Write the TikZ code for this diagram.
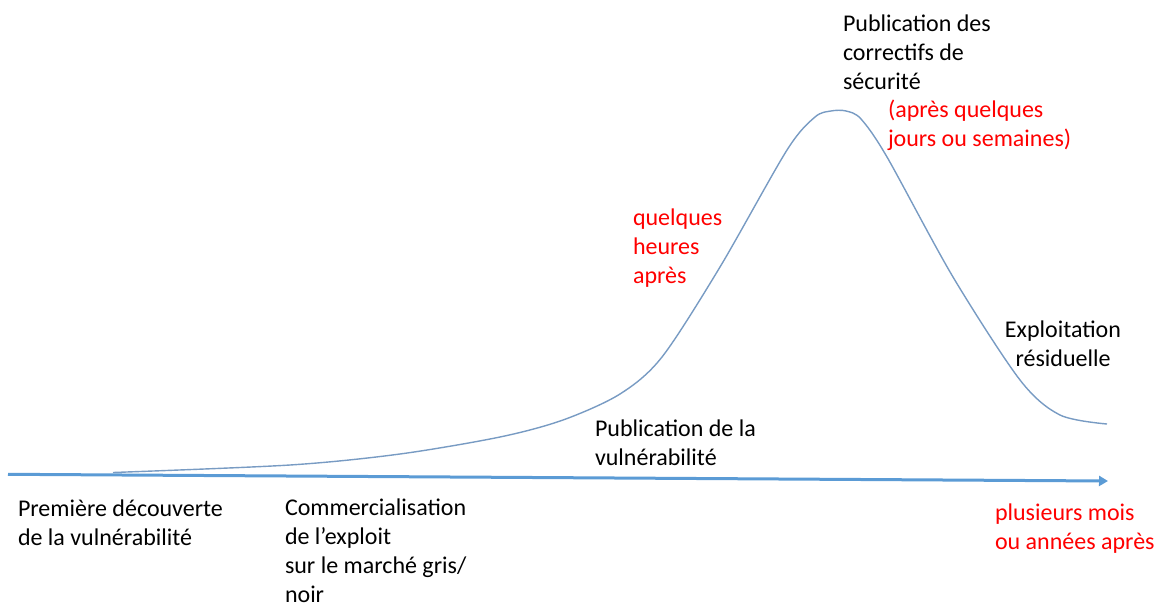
\documentclass[tikz,border=0pt]{standalone}
\usepackage{fontspec}
\setmainfont{Carlito}
\usetikzlibrary{arrows.meta}
\definecolor{axisblue}{RGB}{91,155,213}
\definecolor{curveblue}{RGB}{120,155,195}
\definecolor{lblred}{RGB}{255,0,0}
\newcommand\lblfont{\fontsize{24}{29.3}\selectfont}
\newcommand\fl{\rule{0pt}{20pt}}
\tikzset{
  lbl/.style={anchor=north west, inner sep=0pt, outer sep=0pt, align=left, font=\lblfont, text=black},
  lblc/.style={lbl, anchor=north, align=center},
  redlbl/.style={lbl, text=lblred},
  axisline/.style={draw=axisblue, line width=3pt, -{Triangle[length=9pt,width=10pt]}},
  curveline/.style={draw=curveblue, line width=1.4pt, line join=round}
}
\begin{document}
\begin{tikzpicture}[x=1pt,y=-1pt]
\useasboundingbox (0,0) rectangle (1156,605);
% axis
\coordinate (axstart) at (8,474.3);
\coordinate (axend) at (1108,481);
\draw[axisline] (axstart) -- (axend);
% curve
\draw[curveline] plot[smooth, tension=0.5] coordinates {
 (113,472.5) (290,465) (400,454) (500,437) (563,420) (620,394)
 (662,357) (720,267) (787,150) (815,117) (831,111) (846,111)
 (861,119) (887,157) (953,277) (1020,380) (1060,415) (1107,424)};
% labels
\node[lbl] (pubcorr) at (843,11) {\fl Publication des\\correctifs de\\sécurité};
\node[redlbl] (apres) at (888,97) {\fl (après quelques\\jours ou semaines)};
\node[redlbl] (heures) at (633,205) {\fl quelques\\heures\\après};
\node[lblc] (resid) at (1063,317) {\fl Exploitation\\résiduelle};
\node[lbl] (pubvuln) at (595,416) {\fl Publication de la\\vulnérabilité};
\node[lbl] (premiere) at (18,496) {\fl Première découverte\\de la vulnérabilité};
\node[lbl] (commerce) at (285,495) {\fl Commercialisation\\de l’exploit\\sur le marché gris/\\noir};
\node[redlbl] (mois) at (995,500) {\fl plusieurs mois\\ou années après};
\end{tikzpicture}
\end{document}
